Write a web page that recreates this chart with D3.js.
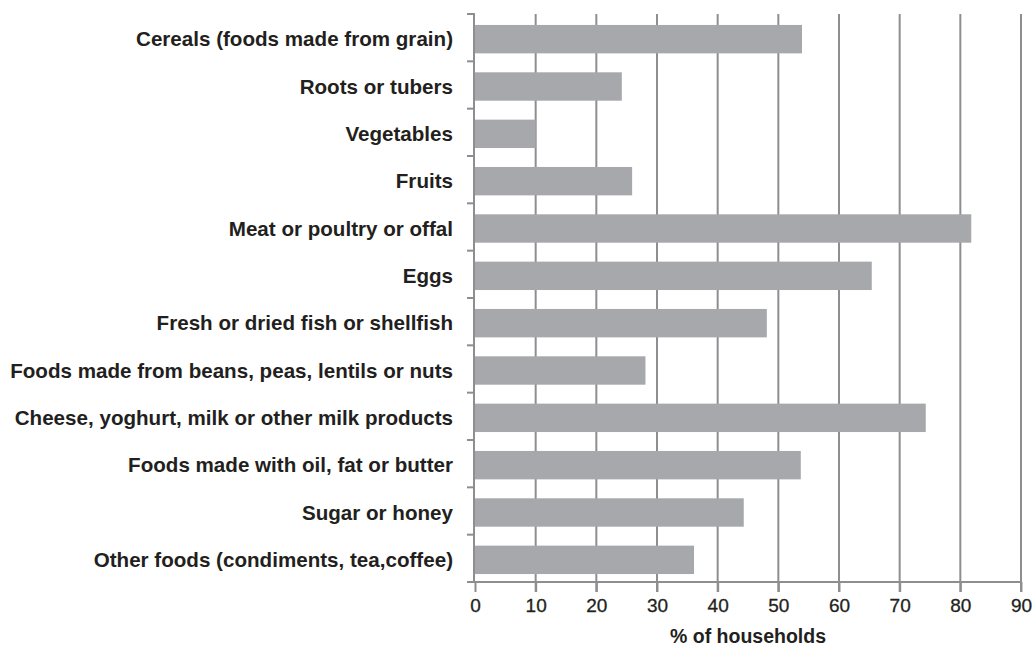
<!DOCTYPE html>
<html>
<head>
<meta charset="utf-8">
<script src="https://cdn.jsdelivr.net/npm/d3@7"></script>
<style>
    body { margin: 0; background: #fff; }
    text { fill: #231f20; }
</style>
</head>
<body>
<div id="chart"></div>
<script>
'use strict';

// food groups, top to bottom
var categories = [
    'Cereals (foods made from grain)',
    'Roots or tubers',
    'Vegetables',
    'Fruits',
    'Meat or poultry or offal',
    'Eggs',
    'Fresh or dried fish or shellfish',
    'Foods made from beans, peas, lentils or nuts',
    'Cheese, yoghurt, milk or other milk products',
    'Foods made with oil, fat or butter',
    'Sugar or honey',
    'Other foods (condiments, tea,coffee)'
];

// % of households
var households = [53.9, 24.2, 10.0, 25.9, 81.8, 65.4, 48.1, 28.1, 74.3, 53.7, 44.3, 36.1];

var xTicks = [0, 10, 20, 30, 40, 50, 60, 70, 80, 90];
var xTitle = '% of households';

var width = 1035,
    height = 646;

var gridColor = '#8e8e91',
    barColor = '#a7a8ab',
    textColor = '#231f20',
    font = '"Liberation Sans", Arial, Helvetica, sans-serif';

var data = categories.map(function (c, i) {
    return {name: c, value: households[i]};
});

var x = d3.scaleLinear()
    .domain([0, 90])
    .range([475, 1021]);

var y = d3.scaleBand()
    .domain(categories)
    .range([14, 582])
    .paddingInner(0.4)
    .paddingOuter(0.2);

var yTop = y.range()[0],
    yBottom = y.range()[1];

var svg = d3.select('#chart').append('svg')
    .attr('width', width)
    .attr('height', height);

// vertical gridlines (run down past the axis as tick marks)
svg.append('g')
    .selectAll('line')
    .data(xTicks.slice(1))
    .enter().append('line')
    .attr('x1', function (d) { return x(d); })
    .attr('x2', function (d) { return x(d); })
    .attr('y1', yTop)
    .attr('y2', yBottom + 10)
    .attr('stroke', gridColor)
    .attr('stroke-width', 2);

// bars
svg.append('g')
    .selectAll('rect')
    .data(data)
    .enter().append('rect')
    .attr('x', x(0))
    .attr('y', function (d) { return y(d.name) + 1.5; })
    .attr('width', function (d) { return x(d.value) - x(0); })
    .attr('height', y.bandwidth())
    .attr('fill', barColor);

// x axis
var xAxis = svg.append('g')
    .attr('transform', 'translate(0,' + yBottom + ')')
    .call(d3.axisBottom(x).tickValues(xTicks).tickSize(10).tickSizeOuter(0).tickPadding(7));

xAxis.select('.domain')
    .attr('d', 'M' + (x(0) - 8) + ',0H' + x(90))
    .attr('stroke', gridColor)
    .attr('stroke-width', 2);

xAxis.selectAll('.tick line')
    .attr('stroke', gridColor)
    .attr('stroke-width', 2);

xAxis.selectAll('.tick text')
    .style('font-family', font)
    .style('font-size', '19px')
    .attr('fill', textColor)
    .attr('stroke', textColor)
    .attr('stroke-width', 0.3);

svg.append('text')
    .attr('x', (x(0) + x(90)) / 2)
    .attr('y', 643)
    .attr('text-anchor', 'middle')
    .style('font-family', font)
    .style('font-weight', 'bold')
    .style('font-size', '19.5px')
    .text(xTitle);

// y axis: line at zero with ticks between categories
var yAxis = svg.append('g');

yAxis.append('line')
    .attr('x1', x(0) - 1)
    .attr('x2', x(0) - 1)
    .attr('y1', yTop)
    .attr('y2', yBottom)
    .attr('stroke', gridColor)
    .attr('stroke-width', 2);

yAxis.selectAll('.sep')
    .data(d3.range(categories.length))
    .enter().append('line')
    .attr('class', 'sep')
    .attr('x1', x(0) - 8)
    .attr('x2', x(0))
    .attr('y1', function (i) { return yTop + i * y.step(); })
    .attr('y2', function (i) { return yTop + i * y.step(); })
    .attr('stroke', gridColor)
    .attr('stroke-width', 2);

yAxis.selectAll('.cat')
    .data(data)
    .enter().append('text')
    .attr('class', 'cat')
    .attr('x', 453)
    .attr('y', function (d) { return y(d.name) + 1.5 + y.bandwidth() / 2; })
    .attr('dy', '0.35em')
    .attr('text-anchor', 'end')
    .style('font-family', font)
    .style('font-weight', 'bold')
    .style('font-size', '20.6px')
    .text(function (d) { return d.name; });
</script>
</body>
</html>
